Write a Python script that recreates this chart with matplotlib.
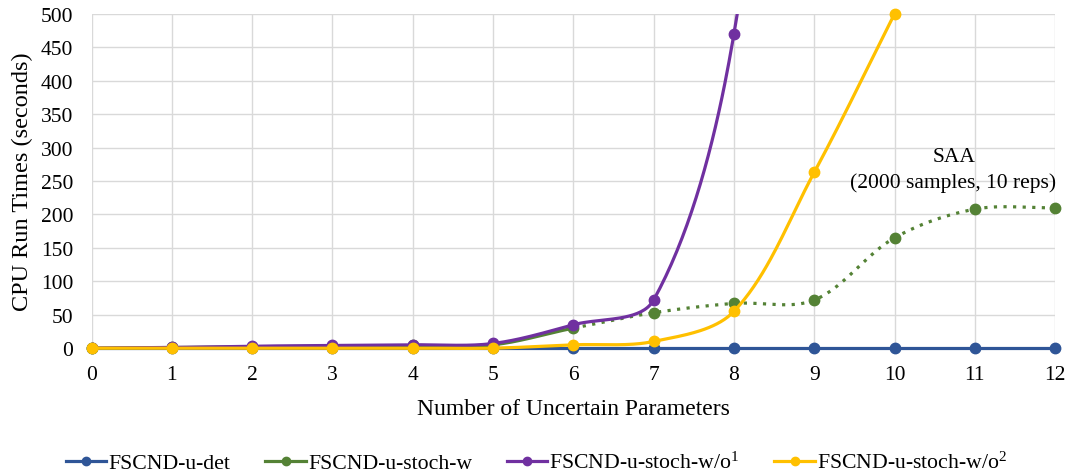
import numpy as np
import matplotlib
matplotlib.use("Agg")
import matplotlib.pyplot as plt
from matplotlib.lines import Line2D

plt.rcParams['font.family'] = ['Liberation Serif', 'DejaVu Serif']
plt.rcParams['mathtext.fontset'] = 'custom'
plt.rcParams['mathtext.rm'] = 'Liberation Serif'
plt.rcParams['mathtext.it'] = 'Liberation Serif'

# data
params = list(range(13))
det = [0, 0, 0, 0, 0, 0, 0, 0, 0, 0, 0, 0, 0]
stoch_w = [0, 1, 2, 3, 4, 5, 30, 53, 67, 72, 165, 208, 210]
stoch_wo1_x = [0, 1, 2, 3, 4, 5, 6, 7, 8, 9]
stoch_wo1 = [0, 1, 3, 4, 5, 7, 35, 72, 470, 1500]
stoch_wo2_x = [0, 1, 2, 3, 4, 5, 6, 7, 8, 9, 10]
stoch_wo2 = [0, 0, 0, 0, 0, 0, 5, 10, 55, 263, 500]

c_det = '#2f5597'
c_w = '#548235'
c_wo1 = '#7030a0'
c_wo2 = '#ffc000'

# y units -> x units on screen (0.668 px per y unit, 80.3 px per x unit)
KY = 0.668 / 80.3


def smooth(x, y, n=40):
    # bezier through the points, tangents scaled by chord length (Excel-like)
    p = np.column_stack([np.asarray(x, float), np.asarray(y, float) * KY])
    ext = np.vstack([p[0], p, p[-1]])
    out = []
    t = np.linspace(0, 1, n)
    for i in range(1, len(ext) - 2):
        p0, p1, p2, p3 = ext[i - 1], ext[i], ext[i + 1], ext[i + 2]
        d01 = np.linalg.norm(p1 - p0)
        d12 = np.linalg.norm(p2 - p1)
        d23 = np.linalg.norm(p3 - p2)
        a = d12 / (d01 + d12) if d01 + d12 > 0 else 0
        b = d12 / (d12 + d23) if d12 + d23 > 0 else 0
        c1 = p1 + (p2 - p0) * a / 3
        c2 = p2 - (p3 - p1) * b / 3
        seg = (np.outer((1 - t) ** 3, p1) + np.outer(3 * (1 - t) ** 2 * t, c1)
               + np.outer(3 * (1 - t) * t ** 2, c2) + np.outer(t ** 3, p2))
        out.append(seg)
    out = np.vstack(out)
    return out[:, 0], out[:, 1] / KY


fig = plt.figure(figsize=(10.69, 4.77), dpi=100)
ax = fig.add_axes([0.0856, 0.268, 0.9014, 0.7006])

lw = 2.3
ms = 7.5

sx, sy = smooth(params, det)
ax.plot(sx, sy, color=c_det, lw=lw, zorder=3, clip_on=False)
ax.plot(params, det, 'o', color=c_det, ms=ms, zorder=3, clip_on=False)

sx, sy = smooth(params, stoch_w)
ax.plot(sx[sx <= 6], sy[sx <= 6], color=c_w, lw=lw, zorder=4, clip_on=False)
ax.plot(sx[sx >= 6], sy[sx >= 6], color=c_w, lw=lw, ls=(0, (1, 2)), zorder=4, clip_on=False)
ax.plot(params, stoch_w, 'o', color=c_w, ms=ms, zorder=4, clip_on=False)

sx, sy = smooth(stoch_wo1_x, stoch_wo1)
ax.plot(sx, sy, color=c_wo1, lw=lw, zorder=5)
ax.plot(stoch_wo1_x, stoch_wo1, 'o', color=c_wo1, ms=ms, zorder=5)

sx, sy = smooth(stoch_wo2_x, stoch_wo2)
ax.plot(sx, sy, color=c_wo2, lw=lw, zorder=6, clip_on=False)
ax.plot(stoch_wo2_x, stoch_wo2, 'o', color=c_wo2, ms=ms, zorder=6, clip_on=False)

ax.set_xlim(0, 12)
ax.set_ylim(0, 500)
ax.set_xticks(params)
ax.set_yticks(range(0, 501, 50))
ax.grid(True, color='#d9d9d9', lw=1)
ax.set_axisbelow(True)
for s in ax.spines.values():
    s.set_visible(False)
ax.tick_params(axis='both', length=0, labelsize=15.5)
ax.tick_params(axis='x', pad=12)
ax.tick_params(axis='y', pad=13)
ax.set_xlabel('Number of Uncertain Parameters', fontsize=17, labelpad=10)
ax.set_ylabel('CPU Run Times (seconds)', fontsize=17.5, labelpad=6)

ax.text(10.74, 287, 'SAA', fontsize=15.5, ha='center', va='center')
ax.text(10.73, 248, '(2000 samples, 10 reps)', fontsize=15.5, ha='center', va='center')

labels = ['FSCND-u-det', 'FSCND-u-stoch-w',
          r'FSCND-u-stoch-w/o$^{1}$', r'FSCND-u-stoch-w/o$^{2}$']
colors = [c_det, c_w, c_wo1, c_wo2]
handles = [Line2D([], [], color=c, lw=lw, marker='o', ms=6) for c in colors]
fig.legend(handles, labels, loc='center', bbox_to_anchor=(0.502, 0.028), ncol=4,
           frameon=False, fontsize=15.7, handlelength=1.85, handletextpad=0.1,
           columnspacing=1.6)

fig.savefig('out.png', dpi=100)
